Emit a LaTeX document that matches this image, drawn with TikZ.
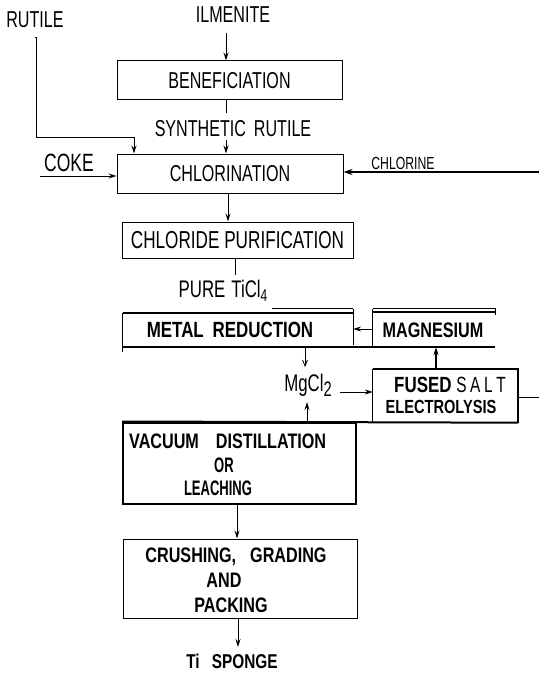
\documentclass[tikz,border=0pt]{standalone}
\usepackage{fontspec}
\usetikzlibrary{arrows.meta}
\newfontfamily\lab[FakeStretch=0.70]{Liberation Sans}
\newfontfamily\blab[FakeStretch=0.77]{Liberation Sans}
\newfontfamily\nlab[FakeStretch=0.62]{Liberation Sans}
\newcommand\fsz[1]{\fontsize{#1}{#1}\selectfont}
\begin{document}
\begin{tikzpicture}[x=1pt,y=-1pt,
  lbl/.style={font=\lab\fsz{23}, inner sep=0},
  blbl/.style={font=\blab\bfseries\fsz{22}, inner sep=0},
  boxthin/.style={draw, line width=1pt},
  arr/.style={-{Stealth[length=8pt,width=5pt]}, line width=1pt},
  ln/.style={line width=1pt},
  heavy/.style={line width=2pt},
]
\useasboundingbox (0,0) rectangle (539,674);
\fill[white] (0,0) rectangle (539,674);

% top inputs
\node[lbl] (rutile) at (35,20) {RUTILE};
\node[lbl] (ilm) at (233,15) {ILMENITE};
\node[lbl, boxthin, minimum width=225pt, minimum height=39pt] (benef) at (229.5,80.5) {BENEFICIATION};
\node[lbl] (synth) at (233,129) {SYNTHETIC\hspace{8pt}RUTILE};
\node[lbl, boxthin, minimum width=226pt, minimum height=39pt] (chlor) at (230,173.5) {CHLORINATION};
\node[lbl, font=\lab\fsz{25}] (coke) at (69,162.5) {COKE};
\node[lbl, font=\lab\fsz{17.5}] (chlorine) at (403,163) {CHLORINE};
\node[lbl, boxthin, minimum width=231pt, minimum height=36pt, font=\lab\fsz{24.5}] (purif) at (237.5,240) {CHLORIDE PURIFICATION};
\node[lbl, font=\lab\fsz{24}] (pure) at (223,291) {PURE\hspace{6pt}TiCl\raisebox{-4pt}{\fsz{17}4}};

% metal reduction and magnesium
\node[minimum width=230pt, minimum height=34pt, inner sep=0] (mr) at (238,330) {};
\node[blbl] (mrt) at (230,330) {METAL\hspace{4pt} REDUCTION};
\node[minimum width=122pt, minimum height=35pt, inner sep=0] (mag) at (434,329.5) {};
\node[blbl, font=\blab\bfseries\fsz{21}] (magt) at (433,330) {MAGNESIUM};
\draw[ln] (mr.north west) -- ([yshift=-5pt]mr.south west);
\draw[ln] ([yshift=4pt]mr.north east) -- ([yshift=2pt]mr.south east);
\draw[heavy] (mr.north west) -- (mr.north east);
\draw[ln] ([yshift=4pt]mr.north east) -- ++(-81,0);
\draw[heavy] (mr.south west) -- (mag.south east);
\draw[ln] ([yshift=3pt]mag.north west) -- ([yshift=-1pt]mag.south west);
\draw[ln] ([yshift=3pt]mag.north west) -- ([yshift=3pt]mag.north east) -- ([yshift=-3pt]mag.north east);
\draw[heavy] (mag.north west) -- (mag.north east);

% MgCl2 and electrolysis
\node[lbl, font=\lab\fsz{24}] (mg) at (308,385) {MgCl\raisebox{-5pt}{\fsz{21}2}};
\node[minimum width=145pt, minimum height=53.5pt, inner sep=0] (fused) at (445.5,395.75) {};
\node[blbl] (fusedt) at (450,385) {FUSED {\lab\mdseries S\,A\,L\,T}};
\node[blbl, font=\blab\bfseries\fsz{19}] (electt) at (441,407) {ELECTROLYSIS};
\draw[ln] (fused.south west) -- (fused.north west);
\draw[heavy] (fused.north west) -- (fused.north east) -- (fused.south east);

% vacuum distillation
\node[draw, heavy, minimum width=233pt, minimum height=81pt, inner sep=0] (vac) at (239.5,463) {};
\draw[heavy] (vac.north west) -- (fused.south east);
\node[blbl, font=\blab\bfseries\fsz{21}, anchor=west] (vact) at (129,441) {VACUUM\hspace{17pt}DISTILLATION};
\node[blbl, font=\nlab\bfseries\fsz{21}] (ort) at (224,465) {OR};
\node[blbl, font=\nlab\bfseries\fsz{21}] (leacht) at (218,488) {LEACHING};

% crushing
\node[boxthin, minimum width=234pt, minimum height=79pt, inner sep=0] (crush) at (240,578.5) {};
\node[blbl, font=\blab\bfseries\fsz{21}] (crusht1) at (236,557) {CRUSHING,\hspace{14pt}GRADING};
\node[blbl, font=\blab\bfseries\fsz{21}] (crusht2) at (224,580) {AND};
\node[blbl, font=\blab\bfseries\fsz{21}] (crusht3) at (231,605) {PACKING};
\node[blbl, font=\blab\bfseries\fsz{20}] (sponge) at (232,661) {Ti\hspace{12pt}SPONGE};

% connectors
\coordinate (rbend) at (134,137);
\draw[arr] ([yshift=-9pt]rutile.south) -- ++(1,0) |- (rbend) -- (rbend |- chlor.north);
\coordinate (ilmA) at (226,33);
\draw[arr] (ilmA) -- (ilmA |- benef.north);
\coordinate (bs) at (226,113);
\draw[ln] (bs |- benef.south) -- (bs);
\coordinate (sc) at (226,140);
\draw[arr] (sc) -- (sc |- chlor.north);
\coordinate (cokeA) at (40,176);
\draw[arr] (cokeA) -- (cokeA -| chlor.west);
\coordinate (clA) at (539,172);
\draw[-{Stealth[length=9pt,width=6pt]}, line width=2.6pt] (clA) -- (clA -| chlor.east);
\coordinate (cp) at (228,200);
\draw[arr] (cp |- chlor.south) -- (cp |- purif.north);
\coordinate (pp) at (235,275);
\draw[ln] (pp |- purif.south) -- (pp);
\coordinate (mgr) at (400,329);
\draw[arr] (mgr -| mag.west) -- (mgr -| mr.east);
\coordinate (mm) at (305,367);
\draw[-{Straight Barb[length=6pt,width=5pt]}, line width=0.8pt] (mm |- mr.south) -- (mm);
\coordinate (mf) at (340,392);
\draw[arr] (mf) -- (mf -| fused.west);
\coordinate (fm) at (436,360);
\draw[arr, line width=1.5pt] (fm |- fused.north) -- (fm |- mag.south);
\coordinate (fr) at (539,397);
\draw[ln] (fr -| fused.east) -- (fr);
\coordinate (vm) at (307,402);
\draw[arr] (vm |- vac.north) -- (vm);
\coordinate (vc) at (237,520);
\draw[arr] (vc |- vac.south) -- (vc |- crush.north);
\coordinate (cs) at (238,647);
\draw[arr] (cs |- crush.south) -- (cs);
\end{tikzpicture}
\end{document}
